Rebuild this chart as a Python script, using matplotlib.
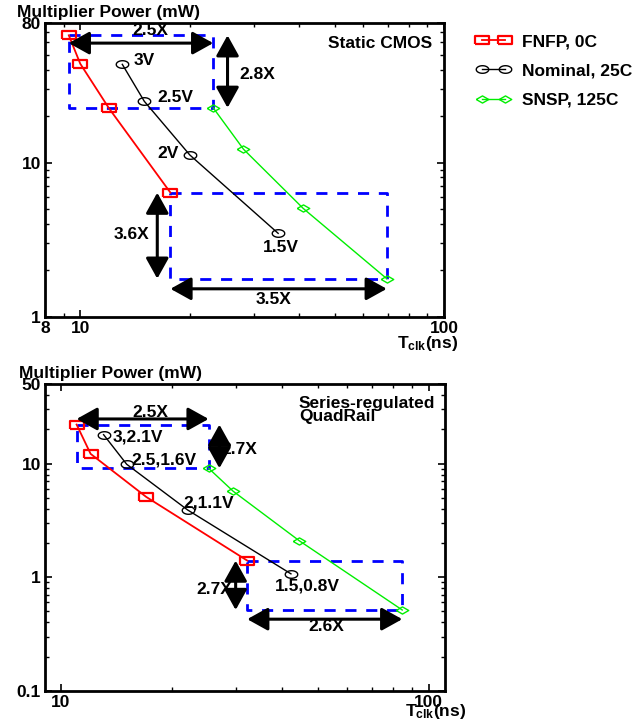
import numpy as np
import matplotlib
matplotlib.use("Agg")
import matplotlib.pyplot as plt
from matplotlib.path import Path

plt.rcParams['font.family'] = ['Liberation Sans', 'DejaVu Sans']
plt.rcParams['font.weight'] = 'bold'
plt.rcParams['font.size'] = 12.5
plt.rcParams['mathtext.fontset'] = 'custom'
plt.rcParams['mathtext.bf'] = 'Liberation Sans:bold'
plt.rcParams['mathtext.rm'] = 'Liberation Sans:bold'

# ---- data ----
series_names = ["FNFP, 0C", "Nominal, 25C", "SNSP, 125C"]

# static CMOS
cmos_fnfp_t = [9.3, 10.0, 12.0, 17.7]
cmos_fnfp_p = [66.6, 43.6, 22.4, 6.38]
cmos_nom_t = [13.05, 15.0, 20.0, 35.0]
cmos_nom_p = [43.2, 24.9, 11.2, 3.48]
cmos_snsp_t = [23.2, 28.1, 41.0, 69.6]
cmos_snsp_p = [22.6, 12.2, 5.05, 1.77]
cmos_volt_labels = ["3V", "2.5V", "2V", "1.5V"]

# series-regulated quadrail
quad_fnfp_t = [11.03, 12.04, 17.06, 32.1]
quad_fnfp_p = [22.1, 12.2, 5.09, 1.40]
quad_nom_t = [13.06, 15.09, 22.1, 42.2]
quad_nom_p = [18.0, 9.88, 3.91, 1.07]
quad_snsp_t = [25.2, 29.4, 44.4, 84.7]
quad_snsp_p = [9.11, 5.71, 2.10, 0.514]
quad_volt_labels = ["3,2.1V", "2.5,1.6V", "2,1.1V", "1.5,0.8V"]

cmos_ratio_labels = ["2.5X", "2.8X", "3.6X", "3.5X"]
quad_ratio_labels = ["2.5X", "2.7X", "2.7X", "2.6X"]

# ---- markers ----
rect = Path([(-1.4, -0.9), (1.4, -0.9), (1.4, 0.9), (-1.4, 0.9), (-1.4, -0.9)])
th = np.linspace(0, 2 * np.pi, 40)
ellipse = Path(np.column_stack([1.4 * np.cos(th), 0.85 * np.sin(th)]))
diamond = Path([(-1.4, 0), (0, 0.8), (1.4, 0), (0, -0.8), (-1.4, 0)])

styles = [
    dict(color='#ff0000', marker=rect, markersize=10, lw=1.3, mew=1.6),
    dict(color='black', marker=ellipse, markersize=9, lw=1.0, mew=1.0),
    dict(color='#00ee00', marker=diamond, markersize=9, lw=1.0, mew=1.0),
]

fig = plt.figure(figsize=(6.41, 7.24), dpi=100)
ax1 = fig.add_axes([45 / 641, 1 - 317 / 724, 399 / 641, 294 / 724])
ax2 = fig.add_axes([45 / 641, 1 - 690.7 / 724, 400 / 641, 306.4 / 724])


def style_axes(ax, xlim, ylim, xticks, yticks):
    ax.set_xscale('log')
    ax.set_yscale('log')
    ax.set_xlim(*xlim)
    ax.set_ylim(*ylim)
    ax.set_xticks(xticks)
    ax.set_xticklabels([str(v) for v in xticks])
    ax.set_yticks(yticks)
    ax.set_yticklabels([str(v) for v in yticks])
    ax.tick_params(which='both', direction='in', top=True, right=True, labelsize=12.5)
    ax.tick_params(which='major', length=5, width=1.2, pad=3)
    ax.tick_params(which='minor', length=3, width=1.0)
    ax.xaxis.set_minor_formatter(matplotlib.ticker.NullFormatter())
    ax.yaxis.set_minor_formatter(matplotlib.ticker.NullFormatter())
    for s in ax.spines.values():
        s.set_linewidth(2)


def draw_box(ax, x0, x1, y0, y1):
    ax.plot([x0, x1, x1, x0, x0], [y0, y0, y1, y1, y0], color='#0000ff',
            lw=2, dashes=(4, 3.5), zorder=1)


def arrow(ax, p0, p1):
    ax.annotate('', xy=p1, xytext=p0,
                arrowprops=dict(arrowstyle='<|-|>,head_length=0.9,head_width=0.5',
                                mutation_scale=14, lw=2.2, color='black',
                                shrinkA=0, shrinkB=0), zorder=5)


def draw_series(ax, data):
    lines = []
    for (t, p), st in zip(data, styles):
        ln, = ax.plot(t, p, mfc='none', mec=st['color'], zorder=3, **st)
        lines.append(ln)
    return lines


# ---- top: static CMOS ----
style_axes(ax1, (8, 100), (1, 80), [8, 10, 100], [1, 10, 80])
lines = draw_series(ax1, [(cmos_fnfp_t, cmos_fnfp_p), (cmos_nom_t, cmos_nom_p),
                          (cmos_snsp_t, cmos_snsp_p)])
draw_box(ax1, cmos_fnfp_t[0], cmos_snsp_t[0], cmos_fnfp_p[0], cmos_snsp_p[0])
draw_box(ax1, cmos_fnfp_t[-1], cmos_snsp_t[-1], cmos_fnfp_p[-1], cmos_snsp_p[-1])
arrow(ax1, (cmos_fnfp_t[0], cmos_fnfp_p[0] * 0.89), (cmos_snsp_t[0], cmos_fnfp_p[0] * 0.89))
arrow(ax1, (cmos_snsp_t[0] * 1.095, cmos_fnfp_p[0]), (cmos_snsp_t[0] * 1.095, cmos_snsp_p[0]))
arrow(ax1, (cmos_fnfp_t[-1] * 0.92, cmos_fnfp_p[-1]), (cmos_fnfp_t[-1] * 0.92, cmos_snsp_p[-1]))
arrow(ax1, (cmos_fnfp_t[-1], cmos_snsp_p[-1] * 0.86), (cmos_snsp_t[-1], cmos_snsp_p[-1] * 0.86))

ax1.text(15.55, 72, cmos_ratio_labels[0], ha='center', va='center')
ax1.text(27.4, 37.4, cmos_ratio_labels[1], ha='left', va='center')
ax1.text(15.5, 3.4, cmos_ratio_labels[2], ha='right', va='center')
ax1.text(33.9, 1.29, cmos_ratio_labels[3], ha='center', va='center')

ax1.text(14.0, 46, cmos_volt_labels[0], ha='left', va='center')
ax1.text(16.3, 26.5, cmos_volt_labels[1], ha='left', va='center')
ax1.text(18.6, 11.4, cmos_volt_labels[2], ha='right', va='center')
ax1.text(31.8, 2.82, cmos_volt_labels[3], ha='left', va='center')
ax1.text(0.97, 0.93, "Static CMOS", transform=ax1.transAxes, ha='right', va='center')

ax1.text(1.035, -0.09, r'$\mathbf{T_{clk}}$(ns)', transform=ax1.transAxes,
         ha='right', va='center')
fig.text(17 / 641, 1 - 12 / 724, "Multiplier Power (mW)", ha='left', va='center')

leg = fig.legend(lines, series_names, loc='upper left',
                 bbox_to_anchor=(470 / 641, 1 - 27 / 724), frameon=False,
                 numpoints=2, handlelength=1.9, handletextpad=0.7,
                 labelspacing=0.82, fontsize=12.5, borderaxespad=0)

# ---- bottom: series-regulated quadrail ----
style_axes(ax2, (9.05, 110.7), (0.1, 50), [10, 100], [0.1, 1, 10, 50])
draw_series(ax2, [(quad_fnfp_t, quad_fnfp_p), (quad_nom_t, quad_nom_p),
                  (quad_snsp_t, quad_snsp_p)])
draw_box(ax2, quad_fnfp_t[0], quad_snsp_t[0], quad_fnfp_p[0], quad_snsp_p[0])
draw_box(ax2, quad_fnfp_t[-1], quad_snsp_t[-1], quad_fnfp_p[-1], quad_snsp_p[-1])
arrow(ax2, (quad_fnfp_t[0], quad_fnfp_p[0] * 1.12), (quad_snsp_t[0], quad_fnfp_p[0] * 1.12))
arrow(ax2, (quad_snsp_t[0] * 1.07, quad_fnfp_p[0]), (quad_snsp_t[0] * 1.07, quad_snsp_p[0]))
arrow(ax2, (quad_fnfp_t[-1] * 0.93, quad_fnfp_p[-1]), (quad_fnfp_t[-1] * 0.93, quad_snsp_p[-1]))
arrow(ax2, (quad_fnfp_t[-1], quad_snsp_p[-1] * 0.83), (quad_snsp_t[-1], quad_snsp_p[-1] * 0.83))

ax2.text(17.46, 28.5, quad_ratio_labels[0], ha='center', va='center')
ax2.text(27.3, 13.2, quad_ratio_labels[1], ha='left', va='center')
ax2.text(29.2, 0.78, quad_ratio_labels[2], ha='right', va='center')
ax2.text(52.5, 0.368, quad_ratio_labels[3], ha='center', va='center')

ax2.text(13.8, 17.0, quad_volt_labels[0], ha='left', va='center')
ax2.text(15.5, 10.7, quad_volt_labels[1], ha='left', va='center')
ax2.text(21.5, 4.5, quad_volt_labels[2], ha='left', va='center')
ax2.text(38.2, 0.836, quad_volt_labels[3], ha='left', va='center')
ax2.text(0.635, 0.917, "Series-regulated\nQuadRail", transform=ax2.transAxes,
         ha='left', va='center', linespacing=0.8)

ax2.text(1.052, -0.068, r'$\mathbf{T_{clk}}$(ns)', transform=ax2.transAxes,
         ha='right', va='center')
fig.text(19 / 641, 1 - 374 / 724, "Multiplier Power (mW)", ha='left', va='center')

fig.savefig("out.png", dpi=100)
